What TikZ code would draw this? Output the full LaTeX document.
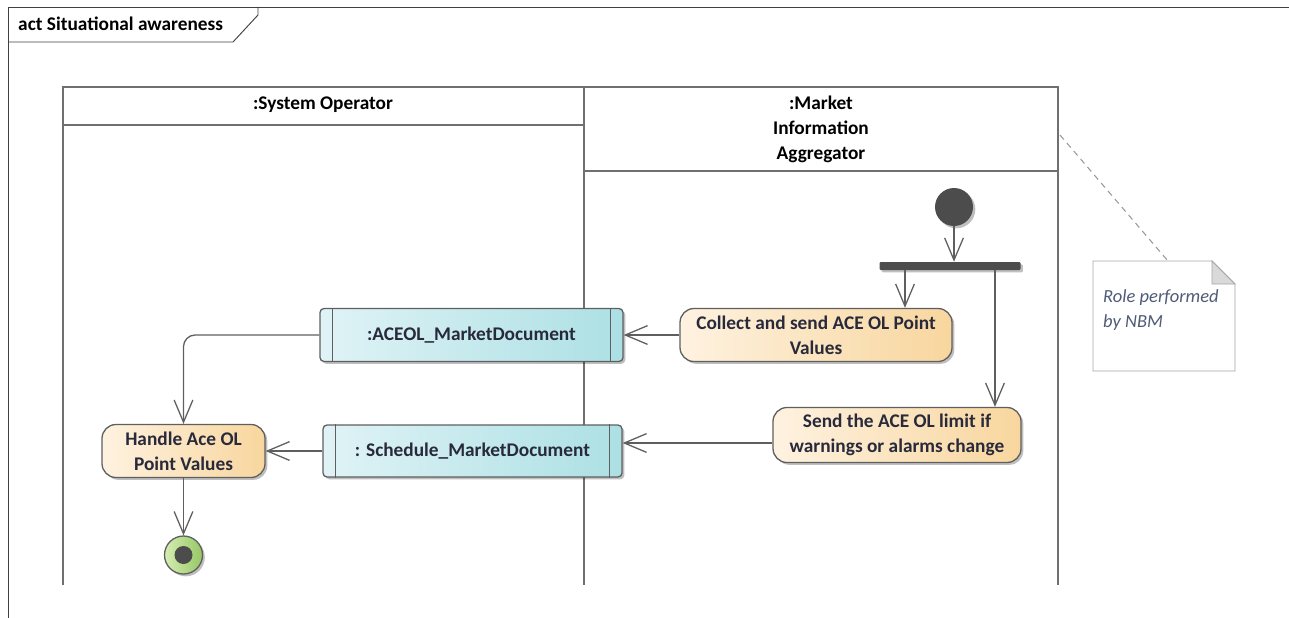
\documentclass[tikz,border=0pt]{standalone}
\usepackage{fontspec}
\setmainfont{Carlito}
\usepackage{tikz}
\usetikzlibrary{arrows.meta,shadows,positioning}

\definecolor{lanegray}{RGB}{112,112,112}
\definecolor{boxgray}{RGB}{95,95,95}
\definecolor{textdark}{RGB}{40,42,60}
\definecolor{actleft}{RGB}{254,242,224}
\definecolor{actright}{RGB}{248,214,158}
\definecolor{objleft}{RGB}{224,243,246}
\definecolor{objright}{RGB}{172,224,228}
\definecolor{endleft}{RGB}{214,236,178}
\definecolor{endright}{RGB}{150,200,100}
\definecolor{notetext}{RGB}{80,92,118}

\newcommand{\pxl}{0.03cm}

\begin{document}
\begin{tikzpicture}[x=0.03cm,y=-0.03cm]

\tikzset{
  lane/.style={draw=lanegray, line width=1.6pt},
  flow/.style={draw=boxgray, line width=1.1pt,
    -{Straight Barb[length=19pt,width=16pt,line width=1.1pt]}},
  shade/.style={drop shadow={shadow xshift=0.07cm, shadow yshift=-0.07cm,
    opacity=0.25, fill=black}},
  action/.style={draw=boxgray, line width=1.1pt, rounded corners=0.42cm,
    left color=actleft, right color=actright, shade,
    text=textdark, align=center, inner sep=0pt,
    font=\fontsize{16.5}{21.3}\selectfont\bfseries},
  object/.style={draw=boxgray, line width=1.1pt, rounded corners=0.12cm,
    left color=objleft, right color=objright, shade,
    text=textdark, align=center, inner sep=0pt,
    font=\fontsize{16.5}{21.3}\selectfont\bfseries},
  header/.style={text=black, align=center, inner sep=0pt,
    font=\fontsize{16.5}{21.3}\selectfont\bfseries}
}

\useasboundingbox (0,0) rectangle (1289,618);

% frame
\draw[draw=black!75, line width=0.8pt] (8,640) -- (8,7) -- (1300,7);
\draw[draw=black!75, line width=0.8pt] (8,42) -- (233,42) -- (258,15) -- (258,7);
\node[anchor=west, inner sep=0pt, font=\fontsize{16.5}{20}\selectfont\bfseries]
  (framelabel) at (18,24) {act Situational awareness};

% swimlanes
\draw[lane] (63,585) -- (63,87) -- (1058,87) -- (1058,585);
\draw[lane] (584,87) -- (584,585);
\draw[lane] (63,125) -- (584,125);
\draw[lane] (584,171) -- (1058,171);
\node[header] (lanesys) at (323,105) {:System Operator};
\node[header] (lanemia) at (821,129) {:Market\\Information\\Aggregator};

% initial node and fork
\node[circle, fill=black!70, minimum size=38*\pxl, inner sep=0pt, shade] (start) at (954,207) {};
\node[fill=black!70, rounded corners=1pt, minimum width=141*\pxl, minimum height=8*\pxl,
  inner sep=0pt, shade] (fork) at (950,266) {};

% actions
\node[action, minimum width=272*\pxl, minimum height=53*\pxl] (collect) at (816,335)
  {Collect and send ACE OL Point\\Values};
\node[action, minimum width=248*\pxl, minimum height=55*\pxl] (send) at (897,435)
  {Send the ACE OL limit if\\warnings or alarms change};
\node[action, minimum width=163*\pxl, minimum height=53*\pxl] (handle) at (183.5,451)
  {Handle Ace OL\\Point Values};

% objects
\node[object, minimum width=303*\pxl, minimum height=53*\pxl] (aceol) at (471.5,335)
  {:ACEOL\_MarketDocument};
\node[object, minimum width=299*\pxl, minimum height=52*\pxl] (schedule) at (472.5,451)
  {: Schedule\_MarketDocument};
\foreach \obj in {aceol,schedule} {
  \draw[draw=boxgray, line width=1.1pt] ([xshift=13*\pxl]\obj.north west) -- ([xshift=13*\pxl]\obj.south west);
  \draw[draw=boxgray, line width=1.1pt] ([xshift=-13*\pxl]\obj.north east) -- ([xshift=-13*\pxl]\obj.south east);
}

% final node
\node[circle, draw=boxgray, line width=1.1pt, left color=endleft, right color=endright,
  minimum size=38*\pxl, inner sep=0pt, shade] (final) at (183.5,555) {};
\fill[black!70] (final.center) circle (9);

% note
\draw[draw=black!35, line width=0.8pt, fill=white] (1093,261) -- (1212,261) -- (1235,284)
  -- (1235,371) -- (1093,371) -- cycle;
\draw[draw=black!35, line width=0.8pt, fill=black!15] (1212,261) -- (1212,284) -- (1235,284) -- cycle;
\node[anchor=north west, align=left, inner sep=0pt, text=notetext,
  font=\fontsize{15.8}{22}\selectfont\itshape] (note) at (1103,289) {Role performed\\by NBM};
\coordinate (notetop) at (1168,261);
\coordinate (laneedge) at (1060,135);
\draw[draw=black!40, line width=0.9pt, dash pattern=on 5pt off 4pt] (laneedge) -- (notetop);

% flows
\draw[flow] (start.south) -- (start.south |- fork.north);
\draw[flow] (fork.south -| 905,0) -- (collect.north -| 905,0);
\draw[flow] (fork.south -| 995,0) -- (send.north -| 995,0);
\draw[flow] (collect.west) -- (aceol.east);
\draw[flow] (send.west |- 0,443) -- (schedule.east |- 0,443);
\draw[flow, rounded corners=0.35cm] (aceol.west) -| (handle.north);
\draw[flow] (schedule.west) -- (handle.east);
\draw[flow] (handle.south) -- (final.north);

\end{tikzpicture}
\end{document}
